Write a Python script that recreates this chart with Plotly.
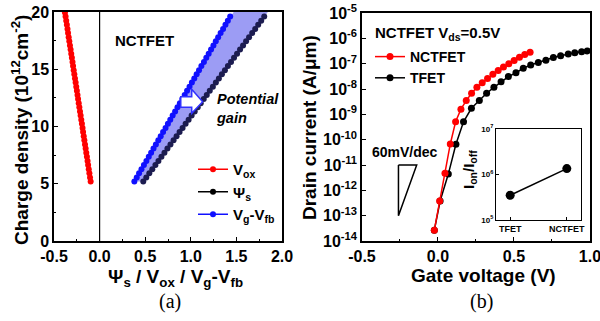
import plotly.graph_objects as go

# ---------------- Panel (a) data ----------------
q_dens = [5.2, 5.56, 5.92, 6.28, 6.64, 7.0, 7.36, 7.72, 8.08, 8.44, 8.8, 9.16, 9.52, 9.88,
          10.24, 10.6, 10.96, 11.32, 11.68, 12.04, 12.4, 12.76, 13.12, 13.48, 13.84, 14.2,
          14.56, 14.92, 15.28, 15.64, 16.0, 16.36, 16.72, 17.08, 17.44, 17.8, 18.16, 18.52,
          18.88, 19.24, 19.6]
q_vox = q_dens + [19.96]
v_ox = [-0.098, -0.105, -0.112, -0.119, -0.126, -0.132, -0.139, -0.146, -0.153, -0.160,
        -0.167, -0.174, -0.181, -0.187, -0.194, -0.201, -0.208, -0.215, -0.222, -0.229,
        -0.236, -0.242, -0.249, -0.256, -0.263, -0.270, -0.277, -0.284, -0.291, -0.297,
        -0.304, -0.311, -0.318, -0.325, -0.332, -0.339, -0.346, -0.352, -0.359, -0.366,
        -0.373, -0.380]
psi_s = [0.479, 0.512, 0.545, 0.578, 0.612, 0.645, 0.678, 0.711, 0.744, 0.777, 0.811,
         0.844, 0.877, 0.910, 0.943, 0.976, 1.009, 1.043, 1.076, 1.109, 1.142, 1.175,
         1.208, 1.242, 1.275, 1.308, 1.341, 1.374, 1.407, 1.441, 1.474, 1.507, 1.540,
         1.573, 1.606, 1.639, 1.673, 1.706, 1.739, 1.772, 1.805]
vg_vfb = [0.381, 0.407, 0.433, 0.459, 0.486, 0.513, 0.539, 0.565, 0.591, 0.617, 0.644,
          0.670, 0.696, 0.723, 0.749, 0.775, 0.801, 0.828, 0.854, 0.880, 0.906, 0.933,
          0.959, 0.986, 1.012, 1.038, 1.064, 1.090, 1.116, 1.144, 1.170, 1.196, 1.222,
          1.248, 1.274, 1.300, 1.327, 1.354, 1.380, 1.406, 1.432]
band_top_q = [20.0, 20.0]
band_top_x = [1.47, 1.845]

# ---------------- Panel (b) data ----------------
vg_nctfet = [-0.024, 0.011, 0.046, 0.081, 0.116, 0.151, 0.186, 0.221, 0.256, 0.291, 0.326,
             0.361, 0.396, 0.431, 0.466, 0.501, 0.536, 0.571, 0.606]
id_nctfet = [2.7e-14, 3.8e-13, 4.7e-12, 6.8e-11, 5.1e-10, 1.6e-9, 3.5e-9, 6.8e-9, 1.17e-8,
             1.78e-8, 2.6e-8, 3.8e-8, 5.4e-8, 7.4e-8, 1.0e-7, 1.35e-7, 1.78e-7, 2.3e-7, 2.8e-7]
vg_tfet = [-0.024, 0.014, 0.068, 0.118, 0.168, 0.22, 0.272, 0.32, 0.368, 0.415, 0.463,
           0.513, 0.561, 0.61, 0.66, 0.71, 0.759, 0.807, 0.857, 0.90, 0.945, 0.982]
id_tfet = [2.7e-14, 3.8e-13, 4.4e-12, 6.6e-11, 5.1e-10, 1.74e-9, 3.5e-9, 6.8e-9, 1.17e-8,
           1.95e-8, 3.1e-8, 4.4e-8, 6.6e-8, 8.9e-8, 1.12e-7, 1.38e-7, 1.74e-7, 2.04e-7,
           2.4e-7, 2.7e-7, 2.95e-7, 3.2e-7]
slope_vg = [-0.26, -0.14, -0.26, -0.26]
slope_id = [1e-11, 1e-11, 1e-13, 1e-11]

inset_dev = ["TFET", "NCTFET"]
inset_ratio = [3.5e5, 1.35e6]

ax_ticks_a = [-0.5, 0.0, 0.5, 1.0, 1.5, 2.0]
ax_text_a = ["-0.5", "0.0", "0.5", "1.0", "1.5", "2.0"]
ax_ticks_b = [-0.5, 0.0, 0.5, 1.0]
ax_text_b = ["-0.5", "0.0", "0.5", "1.0"]
id_ticks = [1e-14, 1e-13, 1e-12, 1e-11, 1e-10, 1e-9, 1e-8, 1e-7, 1e-6, 1e-5]
id_text = ["10<sup>-14</sup>", "10<sup>-13</sup>", "10<sup>-12</sup>", "10<sup>-11</sup>",
           "10<sup>-10</sup>", "10<sup>-9</sup>", "10<sup>-8</sup>", "10<sup>-7</sup>",
           "10<sup>-6</sup>", "10<sup>-5</sup>"]
inset_ticks = [1e5, 1e6, 1e7]
inset_text = ["10<sup>5</sup>", "10<sup>6</sup>", "10<sup>7</sup>"]

FAM = "Liberation Sans, Arial, sans-serif"
RED = "#ff0000"
BLUE = "#1010ff"
NAVY = "#1c1c50"

fig = go.Figure()

# band fill between Vg-Vfb and Psi_s
fig.add_trace(go.Scatter(
    x=vg_vfb + band_top_x + psi_s[::-1],
    y=q_dens + band_top_q + q_dens[::-1],
    fill="toself", fillcolor="#9c9cf4", mode="lines", line=dict(width=0),
    showlegend=False, hoverinfo="skip", xaxis="x", yaxis="y"))

fig.add_trace(go.Scatter(x=v_ox, y=q_vox, mode="lines+markers", name="V<sub>ox</sub>",
                         line=dict(color=RED, width=1.5), marker=dict(color=RED, size=6),
                         xaxis="x", yaxis="y", legend="legend"))
fig.add_trace(go.Scatter(x=psi_s, y=q_dens, mode="lines+markers", showlegend=False,
                         line=dict(color=NAVY, width=1.5), marker=dict(color=NAVY, size=6),
                         xaxis="x", yaxis="y"))
fig.add_trace(go.Scatter(x=[None], y=[None], mode="lines+markers", name="Ψ<sub>s</sub>",
                         line=dict(color="black", width=1.5), marker=dict(color="black", size=6),
                         xaxis="x", yaxis="y", legend="legend"))
fig.add_trace(go.Scatter(x=vg_vfb, y=q_dens, mode="lines+markers", name="V<sub>g</sub>-V<sub>fb</sub>",
                         line=dict(color=BLUE, width=1.5), marker=dict(color=BLUE, size=6),
                         xaxis="x", yaxis="y", legend="legend"))

# panel (b)
fig.add_trace(go.Scatter(x=vg_tfet, y=id_tfet, mode="lines+markers", name="TFET",
                         line=dict(color="black", width=1.5), marker=dict(color="black", size=7),
                         xaxis="x2", yaxis="y2", legend="legend2", legendrank=2))
fig.add_trace(go.Scatter(x=vg_nctfet, y=id_nctfet, mode="lines+markers", name="NCTFET",
                         line=dict(color=RED, width=1.5), marker=dict(color=RED, size=7),
                         xaxis="x2", yaxis="y2", legend="legend2", legendrank=1))
fig.add_trace(go.Scatter(x=slope_vg, y=slope_id, mode="lines", showlegend=False,
                         line=dict(color="black", width=1.5), xaxis="x2", yaxis="y2"))

# inset
fig.add_trace(go.Scatter(x=[0, 1], y=inset_ratio, mode="lines+markers", showlegend=False,
                         line=dict(color="black", width=1.5), marker=dict(color="black", size=9),
                         xaxis="x3", yaxis="y3"))

axcommon = dict(showline=True, linecolor="black", linewidth=1.5, mirror=True, ticks="inside",
                tickcolor="black", showgrid=False, zeroline=False, automargin=False,
                ticklabeloverflow="allow",
                tickfont=dict(family=FAM, size=16, color="black", weight="bold"))

fig.update_layout(
    template="none",
    width=600, height=321, margin=dict(l=0, r=0, t=0, b=0, pad=0), autosize=False,
    paper_bgcolor="white", plot_bgcolor="white",
    xaxis=dict(domain=[0.09, 0.47], range=[-0.5, 2.0], tickvals=ax_ticks_a, ticktext=ax_text_a,
               ticklen=4, minor=dict(dtick=0.25, ticks="inside", ticklen=2.5, tickcolor="black"),
               anchor="y", **axcommon),
    yaxis=dict(domain=[0.249, 0.9626], range=[0, 20], dtick=5, ticklen=4,
               minor=dict(dtick=2.5, ticks="inside", ticklen=2.5, tickcolor="black"),
               anchor="x", **axcommon),
    xaxis2=dict(domain=[0.6033, 0.9833], range=[-0.5, 1.0], tickvals=ax_ticks_b, ticktext=ax_text_b,
                ticklen=4, minor=dict(dtick=0.25, ticks="inside", ticklen=2.5, tickcolor="black"),
                anchor="y2", **axcommon),
    yaxis2=dict(domain=[0.249, 0.9595], type="log", range=[-14, -5], tickvals=id_ticks,
                ticktext=id_text, ticklen=4, anchor="x2", **axcommon),
    xaxis3=dict(domain=[0.8267, 0.9683], range=[-0.25, 1.25], tickvals=[0, 1], ticktext=inset_dev,
                ticklen=3, anchor="y3", showline=True, linecolor="black", linewidth=1.2, mirror=True,
                ticks="inside", tickcolor="black", showgrid=False, zeroline=False, automargin=False,
                tickfont=dict(family=FAM, size=9, color="black", weight="bold")),
    yaxis3=dict(domain=[0.3146, 0.5981], type="log", range=[5, 7], tickvals=inset_ticks,
                ticktext=inset_text, ticklen=3, anchor="x3", showline=True, linecolor="black",
                linewidth=1.2, mirror=True, ticks="inside", tickcolor="black", showgrid=False,
                zeroline=False, automargin=False,
                tickfont=dict(family=FAM, size=8, color="black", weight="bold")),
    legend=dict(x=193 / 600, y=(321 - 153) / 321, xanchor="left", yanchor="top",
                bgcolor="rgba(0,0,0,0)", borderwidth=0,
                font=dict(family=FAM, size=15, color="black", weight="bold"), tracegroupgap=0),
    legend2=dict(x=370 / 600, y=(321 - 41) / 321, xanchor="left", yanchor="top",
                 bgcolor="rgba(0,0,0,0)", borderwidth=0,
                 font=dict(family=FAM, size=14, color="black", weight="bold"), tracegroupgap=0),
    shapes=[
        dict(type="line", xref="x", yref="y", x0=0, x1=0, y0=0, y1=20,
             line=dict(color="black", width=1.2)),
        dict(type="path", xref="x", yref="y",
             path="M 0.89 11.68 L 1.01 11.68 L 1.01 11.15 L 1.13 12.17 L 1.01 13.25 L 1.01 12.60 L 0.89 12.60 Z",
             fillcolor="white", line=dict(color="#3030ff", width=1.5)),
    ],
)

TF = dict(family=FAM, color="black", weight="bold")
ann = [
    dict(text="Charge density (10<sup>12</sup>cm<sup>-2</sup>)", x=20 / 600, y=(321 - 130) / 321,
         textangle=-90, font=dict(size=19, **TF)),
    dict(text="Ψ<sub>s</sub> / V<sub>ox</sub> / V<sub>g</sub>-V<sub>fb</sub>", x=175 / 600,
         y=(321 - 278) / 321, font=dict(size=19, **TF)),
    dict(text="(a)", x=170 / 600, y=(321 - 301) / 321,
         font=dict(family="Liberation Serif, Times New Roman, serif", size=20, color="black")),
    dict(text="Drain current (A/μm)", x=309 / 600, y=(321 - 128) / 321, textangle=-90,
         font=dict(size=19, **TF)),
    dict(text="Gate voltage (V)", x=483 / 600, y=(321 - 275) / 321, font=dict(size=19, **TF)),
    dict(text="(b)", x=481 / 600, y=(321 - 301) / 321,
         font=dict(family="Liberation Serif, Times New Roman, serif", size=20, color="black")),
    dict(text="I<sub>on</sub>/I<sub>off</sub>", x=469 / 600, y=(321 - 170) / 321, textangle=-90,
         font=dict(size=15, **TF)),
]
for a in ann:
    a.update(xref="paper", yref="paper", showarrow=False, xanchor="center", yanchor="middle")
    fig.add_annotation(**a)

fig.add_annotation(text="NCTFET", x=0.147, y=17.55, xref="x", yref="y", xanchor="left",
                   yanchor="middle", showarrow=False, font=dict(size=15, **TF))
fig.add_annotation(text="<i>Potential</i><br><i>gain</i>", x=1.254, y=11.6, xref="x", yref="y",
                   xanchor="left", yanchor="middle", align="left", showarrow=False,
                   font=dict(size=14.5, **TF))
fig.add_annotation(text="NCTFET V<sub>ds</sub>=0.5V", x=-0.428, y=-5.79, xref="x2", yref="y2",
                   xanchor="left", yanchor="middle", showarrow=False, font=dict(size=15, **TF))
fig.add_annotation(text="60mV/dec", x=-0.447, y=-10.49, xref="x2", yref="y2",
                   xanchor="left", yanchor="middle", showarrow=False, font=dict(size=14, **TF))

fig.write_html("out.html")
